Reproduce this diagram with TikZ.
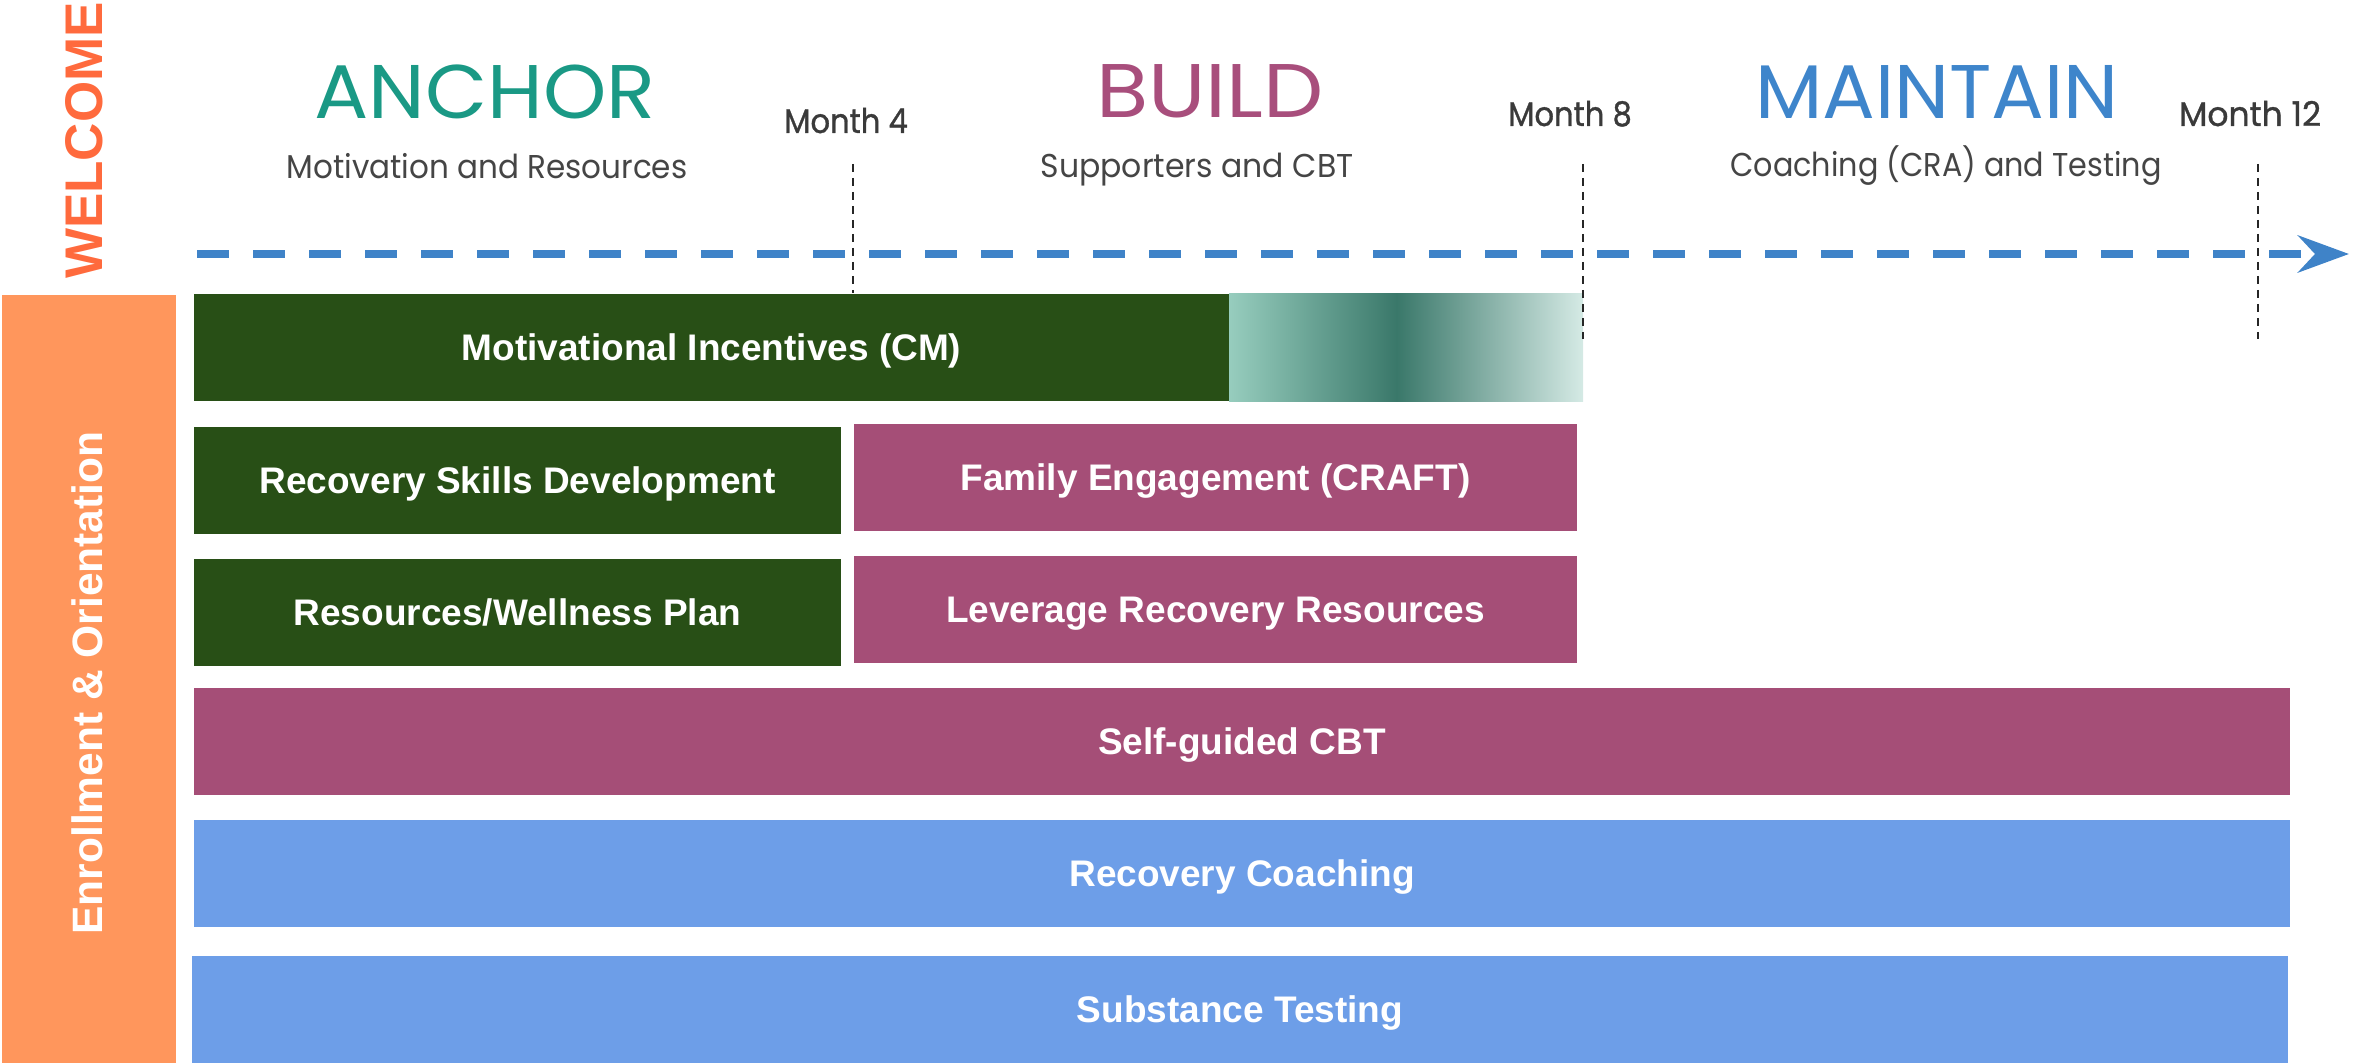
\documentclass[tikz,border=0pt]{standalone}
\usepackage{fontspec}
\usepackage{graphicx}
\setmainfont{Liberation Sans}
\newfontfamily\popfont{Poppins}
\usetikzlibrary{arrows.meta}

% palette
\definecolor{welcomeor}{HTML}{FF6A3D}
\definecolor{enrollor}{HTML}{FF965C}
\definecolor{anchgreen}{HTML}{284F16}
\definecolor{buildmag}{HTML}{A54E77}
\definecolor{mainblue}{HTML}{6D9EE8}
\definecolor{arrowblue}{HTML}{3F83C8}
\definecolor{anchorteal}{HTML}{1A9985}
\definecolor{buildtitle}{HTML}{A84E7C}
\definecolor{maintitle}{HTML}{3E85CB}
\definecolor{subgray}{HTML}{454545}
\definecolor{monthgray}{HTML}{3A3A3A}
\definecolor{fadeA}{HTML}{97CDBE}
\definecolor{fadeB}{HTML}{3A786A}
\definecolor{fadeC}{HTML}{D5EAE5}

% tapering of the incentives bar after the solid part
\pgfdeclarehorizontalshading{cmfade}{100bp}{color(0bp)=(fadeA); color(25bp)=(fadeA);
  color(48.7bp)=(fadeB); color(75bp)=(fadeC); color(100bp)=(fadeC)}

\newcommand\squeeze[2]{\scalebox{#1}[1]{#2}}

\begin{document}
\begin{tikzpicture}[x=1pt, y=-1pt,
  bar/.style={draw=none, inner sep=0pt, text=white,
    font=\fontsize{37}{40}\selectfont\bfseries,
    text height=26.5pt, text depth=0pt},
  phase/.style={font=\popfont\fontsize{76}{80}\selectfont, inner sep=0pt, anchor=base},
  phasesub/.style={font=\popfont\fontsize{33}{36}\selectfont, text=subgray, inner sep=0pt, anchor=base},
  month/.style={font=\popfont\fontsize{34}{36}\selectfont\addfontfeature{FakeBold=1},
    text=monthgray, inner sep=0pt, anchor=base},
  monthline/.style={draw=black!85, line width=2pt, dash pattern=on 8pt off 6pt},
  timeline/.style={draw=arrowblue, line width=8pt, dash pattern=on 32pt off 24pt,
    -{Stealth[length=51pt, width=37pt, inset=17pt]}},
  sidelabel/.style={rotate=90, anchor=base, inner sep=0pt, text=white,
    font=\fontsize{42.5}{45}\selectfont\bfseries}
]
\useasboundingbox (0,0) rectangle (2353,1064);

% welcome banner and enrollment column
\node[rotate=90, anchor=base, inner sep=0pt, text=welcomeor,
  font=\fontsize{53}{56}\selectfont\bfseries] (welcome) at (102,140.5) {WELCOME};
\node[fill=enrollor, inner sep=0pt, minimum width=174pt, minimum height=768pt] (enroll) at (89,679) {};
\node[sidelabel] (enrolltxt) at (102,683) {Enrollment \& Orientation};

% phase headings
\node[phase, text=anchorteal] (anchor) at (485,119) {\squeeze{1.06}{ANCHOR}};
\node[phasesub] (anchorsub) at (487,179) {\squeeze{0.94}{Motivation and Resources}};
\node[phase, text=buildtitle] (build) at (1210,118) {\squeeze{1.12}{BUILD}};
\node[phasesub] (buildsub) at (1197,178) {\squeeze{0.955}{Supporters and CBT}};
\node[phase, text=maintitle] (maintain) at (1937,119) {\squeeze{1.03}{MAINTAIN}};
\node[phasesub] (maintainsub) at (1946,177) {\squeeze{0.916}{Coaching (CRA) and Testing}};

% month markers
\node[month] (m4) at (846,133) {\squeeze{0.9}{Month 4}};
\node[month] (m8) at (1570,126) {\squeeze{0.9}{Month 8}};
\node[month] (m12) at (2250,126) {\squeeze{0.97}{Month 12}};

% timeline
\coordinate (tl0) at (197,254);
\coordinate (tl1) at (2349,254);
\draw[timeline] (tl0) -- (tl1);

% program components
\node[bar, fill=anchgreen, minimum width=1035pt, minimum height=107pt] (cm) at (711.5,347.5) {Motivational Incentives (CM)};
\node[shade, shading=cmfade, inner sep=0pt, minimum width=354pt, minimum height=107pt] (cmfade) at (1406,347.5) {};
\node[bar, fill=anchgreen, minimum width=647pt, minimum height=107pt] (skills) at (517.5,480.5) {Recovery Skills Development};
\node[bar, fill=buildmag, minimum width=723pt, minimum height=107pt] (craft) at (1215.5,477.5) {Family Engagement (CRAFT)};
\node[bar, fill=anchgreen, minimum width=647pt, minimum height=107pt] (wellness) at (517.5,612.5) {Resources/Wellness Plan};
\node[bar, fill=buildmag, minimum width=723pt, minimum height=107pt] (leverage) at (1215.5,609.5) {Leverage Recovery Resources};
\node[bar, fill=buildmag, minimum width=2096pt, minimum height=107pt] (cbt) at (1242,741.5) {Self-guided CBT};
\node[bar, fill=mainblue, minimum width=2096pt, minimum height=107pt] (coach) at (1242,873.5) {Recovery Coaching};
\node[bar, fill=mainblue, minimum width=2096pt, minimum height=107pt] (testing) at (1240,1009.5) {Substance Testing};

% month boundaries
\coordinate (m4a) at (853,164);  \coordinate (m4b) at (853,293);
\coordinate (m8a) at (1583,164); \coordinate (m8b) at (1583,339);
\coordinate (m12a) at (2258,164); \coordinate (m12b) at (2258,339);
\draw[monthline] (m4a) -- (m4b);
\draw[monthline] (m8a) -- (m8b);
\draw[monthline] (m12a) -- (m12b);
\end{tikzpicture}
\end{document}
